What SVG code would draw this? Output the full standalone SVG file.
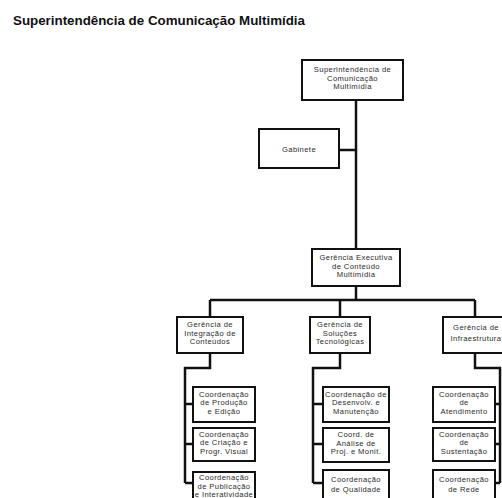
<svg xmlns="http://www.w3.org/2000/svg" width="502" height="498" viewBox="0 0 502 498">
<style>
.bg{fill:#ffffff}
.box{fill:#ffffff;stroke:#111;stroke-width:2}
.t{font-family:"Liberation Sans",Arial,sans-serif;font-size:7.6px;letter-spacing:0.4px;fill:#2a2a2a;text-anchor:middle}
.title{font-family:"Liberation Sans",Arial,sans-serif;font-size:12px;font-weight:bold;fill:#111}
.c{fill:none;stroke:#111;stroke-width:2.5}
</style>
<rect class="bg" x="0" y="0" width="502" height="498"/>
<text class="title" x="13" y="25" textLength="292" lengthAdjust="spacingAndGlyphs">Superintendência de Comunicação Multimídia</text>

<g id="connectors">
<path class="c" d="M356,100 V249"/>
<path class="c" d="M339,150 H356"/>
<path class="c" d="M356,286 V300"/>
<path class="c" d="M210,300 H475"/>
<path class="c" d="M210,300 V317 M340,300 V317 M475,300 V317"/>
<path class="c" d="M210,353 V368 H185 V483"/>
<path class="c" d="M185,404 H193 M185,444 H193 M185,483 H193"/>
<path class="c" d="M340,353 V368 H313 V483"/>
<path class="c" d="M313,404 H323 M313,444 H323 M313,483 H323"/>
<path class="c" d="M475,353 V368 H500 V483"/>
<path class="c" d="M495,404 H500 M495,444 H500 M495,483 H500"/>
</g>

<g id="superintendencia">
<rect class="box" x="302" y="60" width="101" height="40"/>
<text class="t" x="352.5" y="72">Superintendência de<tspan x="352.5" dy="8.7">Comunicação</tspan><tspan x="352.5" dy="8.7">Multimídia</tspan></text>
</g>

<g id="gabinete">
<rect class="box" x="259" y="129" width="80" height="39"/>
<text class="t" x="299" y="151.5">Gabinete</text>
</g>

<g id="gerencia-executiva">
<rect class="box" x="312" y="249" width="88" height="37"/>
<text class="t" x="356" y="260">Gerência Executiva<tspan x="356" dy="8.7">de Conteúdo</tspan><tspan x="356" dy="8.7">Multimídia</tspan></text>
</g>

<g id="gerencia-integracao">
<rect class="box" x="177" y="317" width="66" height="36"/>
<text class="t" x="210" y="327">Gerência de<tspan x="210" dy="8.7">Integração de</tspan><tspan x="210" dy="8.7">Conteúdos</tspan></text>
</g>

<g id="gerencia-solucoes">
<rect class="box" x="310" y="317" width="60" height="36"/>
<text class="t" x="340" y="327">Gerência de<tspan x="340" dy="8.7">Soluções</tspan><tspan x="340" dy="8.7">Tecnológicas</tspan></text>
</g>

<g id="gerencia-infraestrutura">
<rect class="box" x="443" y="317" width="66" height="36"/>
<text class="t" x="476" y="330">Gerência de<tspan x="476" dy="11">Infraestrutura</tspan></text>
</g>

<g id="coord-producao">
<rect class="box" x="193" y="387" width="62" height="35"/>
<text class="t" x="224" y="396.5">Coordenação<tspan x="224" dy="8.7">de Produção</tspan><tspan x="224" dy="8.7">e Edição</tspan></text>
</g>
<g id="coord-criacao">
<rect class="box" x="193" y="428" width="62" height="33"/>
<text class="t" x="224" y="436.5">Coordenação<tspan x="224" dy="8.7">de Criação e</tspan><tspan x="224" dy="8.7">Progr. Visual</tspan></text>
</g>
<g id="coord-publicacao">
<rect class="box" x="193" y="472" width="62" height="34"/>
<text class="t" x="224" y="480">Coordenação<tspan x="224" dy="8.7">de Publicação</tspan><tspan x="224" dy="8.7">e Interatividade</tspan></text>
</g>

<g id="coord-desenvolvimento">
<rect class="box" x="323" y="387" width="66" height="35"/>
<text class="t" x="356" y="396.5">Coordenação de<tspan x="356" dy="8.7">Desenvolv. e</tspan><tspan x="356" dy="8.7">Manutenção</tspan></text>
</g>
<g id="coord-analise">
<rect class="box" x="323" y="428" width="66" height="34"/>
<text class="t" x="356" y="437">Coord. de<tspan x="356" dy="8.7">Análise de</tspan><tspan x="356" dy="8.7">Proj. e Monit.</tspan></text>
</g>
<g id="coord-qualidade">
<rect class="box" x="323" y="470" width="66" height="34"/>
<text class="t" x="356" y="482">Coordenação<tspan x="356" dy="10">de Qualidade</tspan></text>
</g>

<g id="coord-atendimento">
<rect class="box" x="433" y="387" width="62" height="35"/>
<text class="t" x="464" y="396.5">Coordenação<tspan x="464" dy="8.7">de</tspan><tspan x="464" dy="8.7">Atendimento</tspan></text>
</g>
<g id="coord-sustentacao">
<rect class="box" x="433" y="428" width="62" height="33"/>
<text class="t" x="464" y="436.5">Coordenação<tspan x="464" dy="8.7">de</tspan><tspan x="464" dy="8.7">Sustentação</tspan></text>
</g>
<g id="coord-rede">
<rect class="box" x="433" y="470" width="62" height="34"/>
<text class="t" x="464" y="482">Coordenação<tspan x="464" dy="10">de Rede</tspan></text>
</g>
</svg>
